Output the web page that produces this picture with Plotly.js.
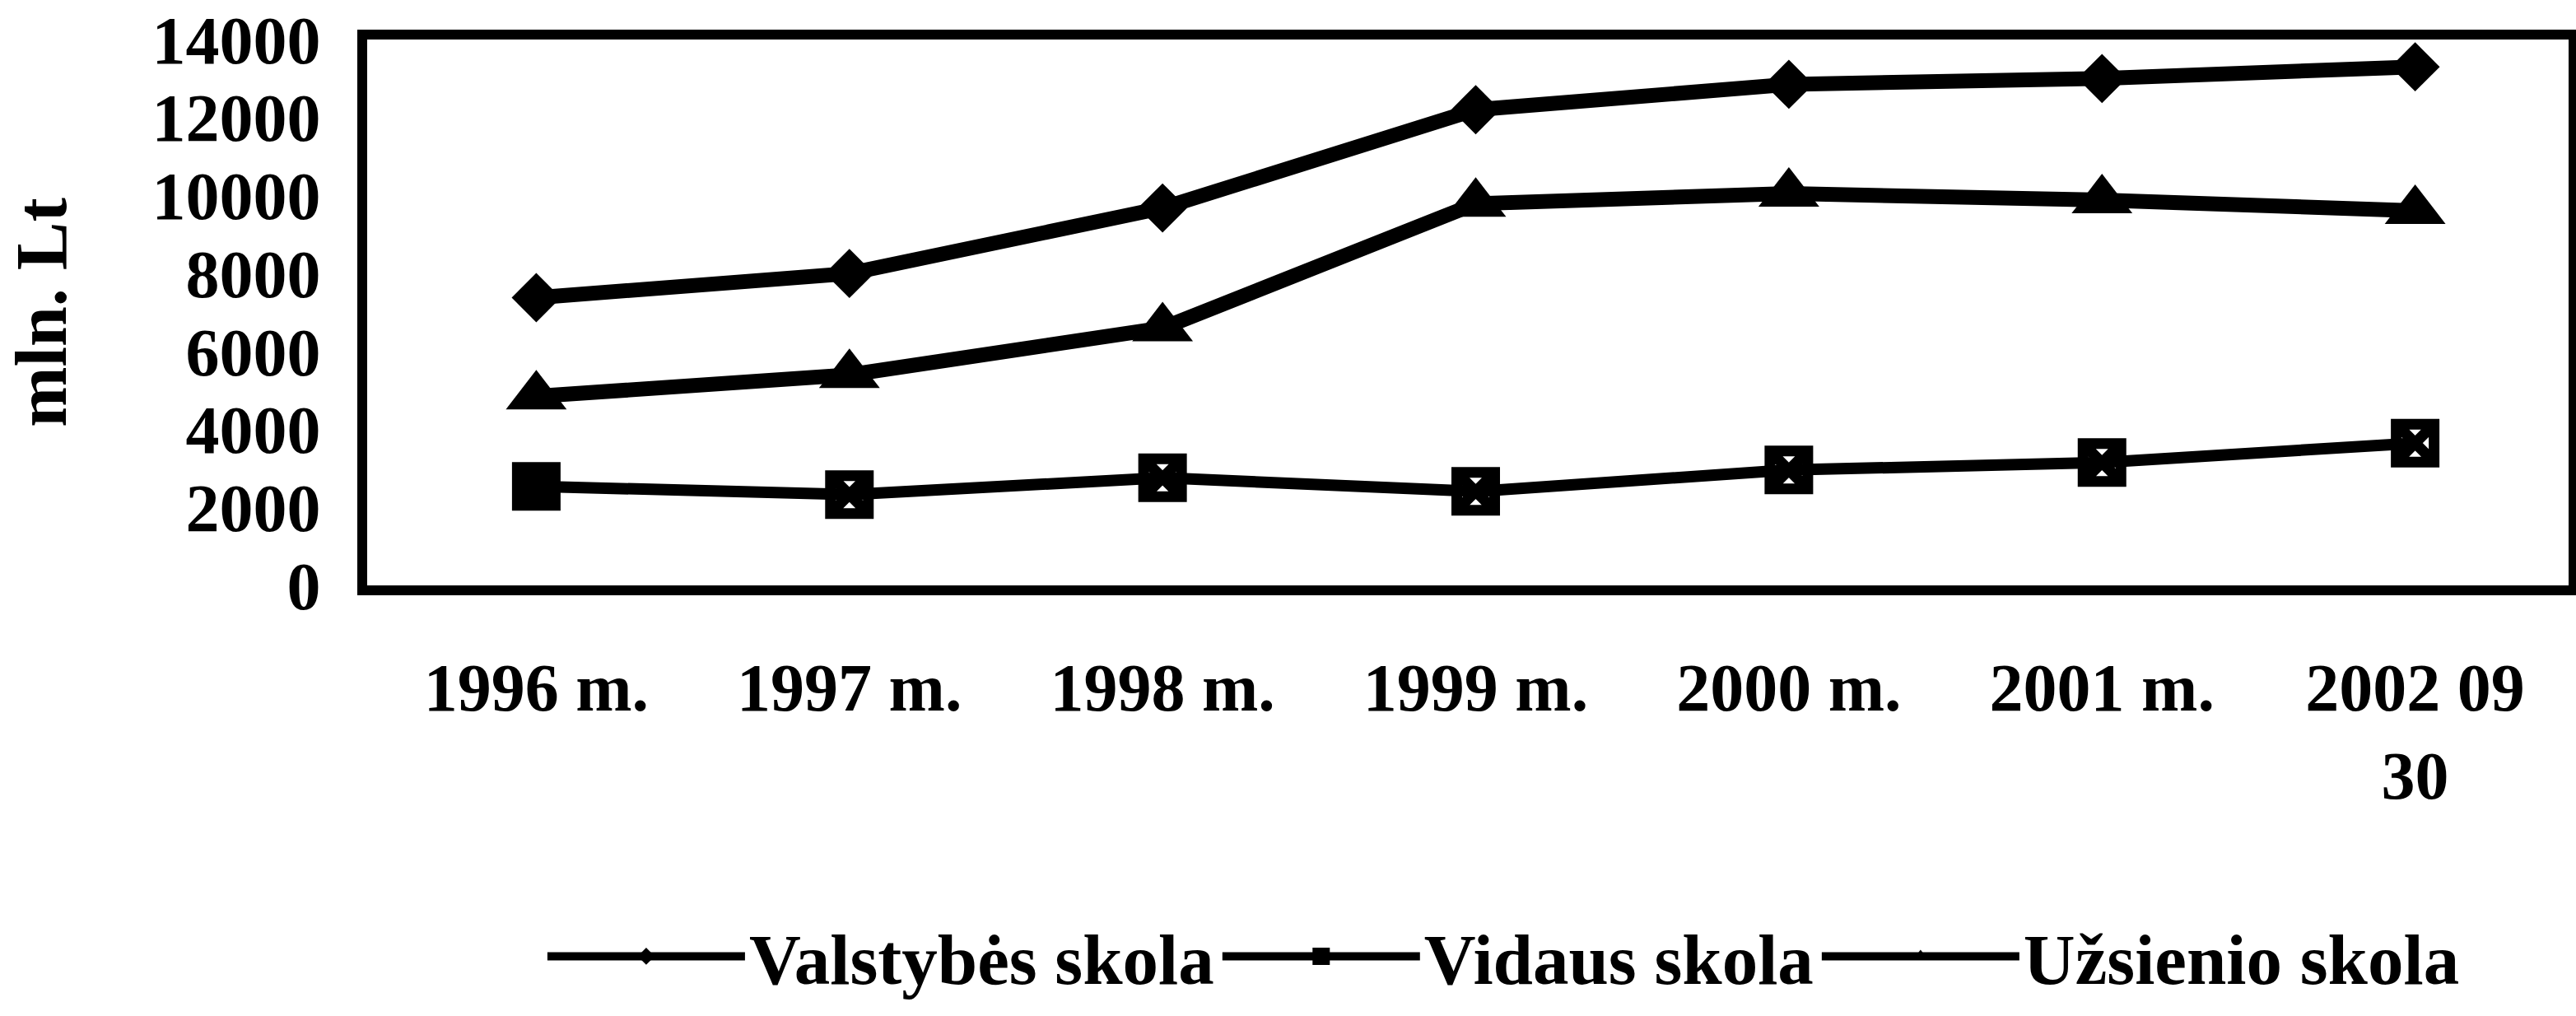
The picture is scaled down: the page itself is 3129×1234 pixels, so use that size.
<!DOCTYPE html>
<html>
<head>
<meta charset="utf-8">
<script src="https://cdn.plot.ly/plotly-3.0.1.min.js"></script>
<style>
  html, body { margin: 0; padding: 0; background: #ffffff; }
  #chart { width: 3129px; height: 1234px; }
</style>
</head>
<body>
<div id="chart"></div>
<script>
// Categories (x axis tick labels)
const categories = ['1996 m.', '1997 m.', '1998 m.', '1999 m.', '2000 m.', '2001 m.', '2002 09<br>30'];

// Series values, mln. Lt
const valstybesSkola = [7380, 8000, 9680, 12200, 12850, 13000, 13300];
const vidausSkola    = [2540, 2330, 2760, 2410, 2960, 3150, 3650];
const uzsienioSkola  = [4850, 5400, 6600, 9790, 10050, 9880, 9610];

// Series names
const seriesNames = ['Valstybės skola', 'Vidaus skola', 'Užsienio skola'];

// Y axis ticks
const yTickValues = [0, 2000, 4000, 6000, 8000, 10000, 12000, 14000];
const yTitle = 'mln. Lt';

const FONT = '"Liberation Serif", "Times New Roman", serif';

const traces = [
  {
    x: categories, y: valstybesSkola, name: seriesNames[0],
    type: 'scatter', mode: 'lines+markers',
    line: { color: '#000000', width: 18 },
    marker: { symbol: 'diamond', size: 46, color: '#000000' }
  },
  {
    x: categories, y: vidausSkola, name: seriesNames[1],
    type: 'scatter', mode: 'lines+markers',
    line: { color: '#000000', width: 14 },
    marker: {
      symbol: ['square', 'square-x-open', 'square-x-open', 'square-x-open', 'square-x-open', 'square-x-open', 'square-x-open'],
      size: 46, color: '#000000', line: { color: '#000000', width: 13 }
    }
  },
  {
    x: categories, y: uzsienioSkola, name: seriesNames[2],
    type: 'scatter', mode: 'lines+markers',
    line: { color: '#000000', width: 18 },
    marker: { symbol: 'triangle-up', size: 64, color: '#000000' }
  }
];

const layout = {
  width: 3129, height: 1234,
  paper_bgcolor: '#ffffff', plot_bgcolor: '#ffffff',
  margin: { l: 446, r: 9, t: 48, b: 519, pad: 0 },
  font: { family: FONT, size: 82, color: '#000000' },
  showlegend: true,
  legend: {
    orientation: 'h',
    x: 0.08, xanchor: 'left',
    y: -0.68, yanchor: 'middle',
    font: { family: FONT, size: 87, color: '#000000', weight: 'bold' },
    itemwidth: 240,
    bgcolor: 'rgba(0,0,0,0)',
    borderwidth: 0
  },
  xaxis: {
    type: 'category',
    range: [-0.54, 6.49],
    showline: true, linecolor: '#000000', linewidth: 12, mirror: true,
    showgrid: false, zeroline: false,
    ticks: '',
    ticklabelstandoff: 42,
    tickfont: { family: FONT, size: 82, color: '#000000', weight: 'bold' },
    fixedrange: true
  },
  yaxis: {
    range: [0, 14000],
    tickvals: yTickValues,
    ticktext: yTickValues.map(String),
    showline: true, linecolor: '#000000', linewidth: 12, mirror: true,
    showgrid: false, zeroline: false,
    ticks: '',
    ticklabelstandoff: 28,
    tickfont: { family: FONT, size: 82, color: '#000000', weight: 'bold' },
    title: { text: yTitle, standoff: 80, font: { family: FONT, size: 88, color: '#000000', weight: 'bold' } },
    fixedrange: true
  }
};

Plotly.newPlot('chart', traces, layout, { staticPlot: true, displayModeBar: false });
</script>
</body>
</html>
